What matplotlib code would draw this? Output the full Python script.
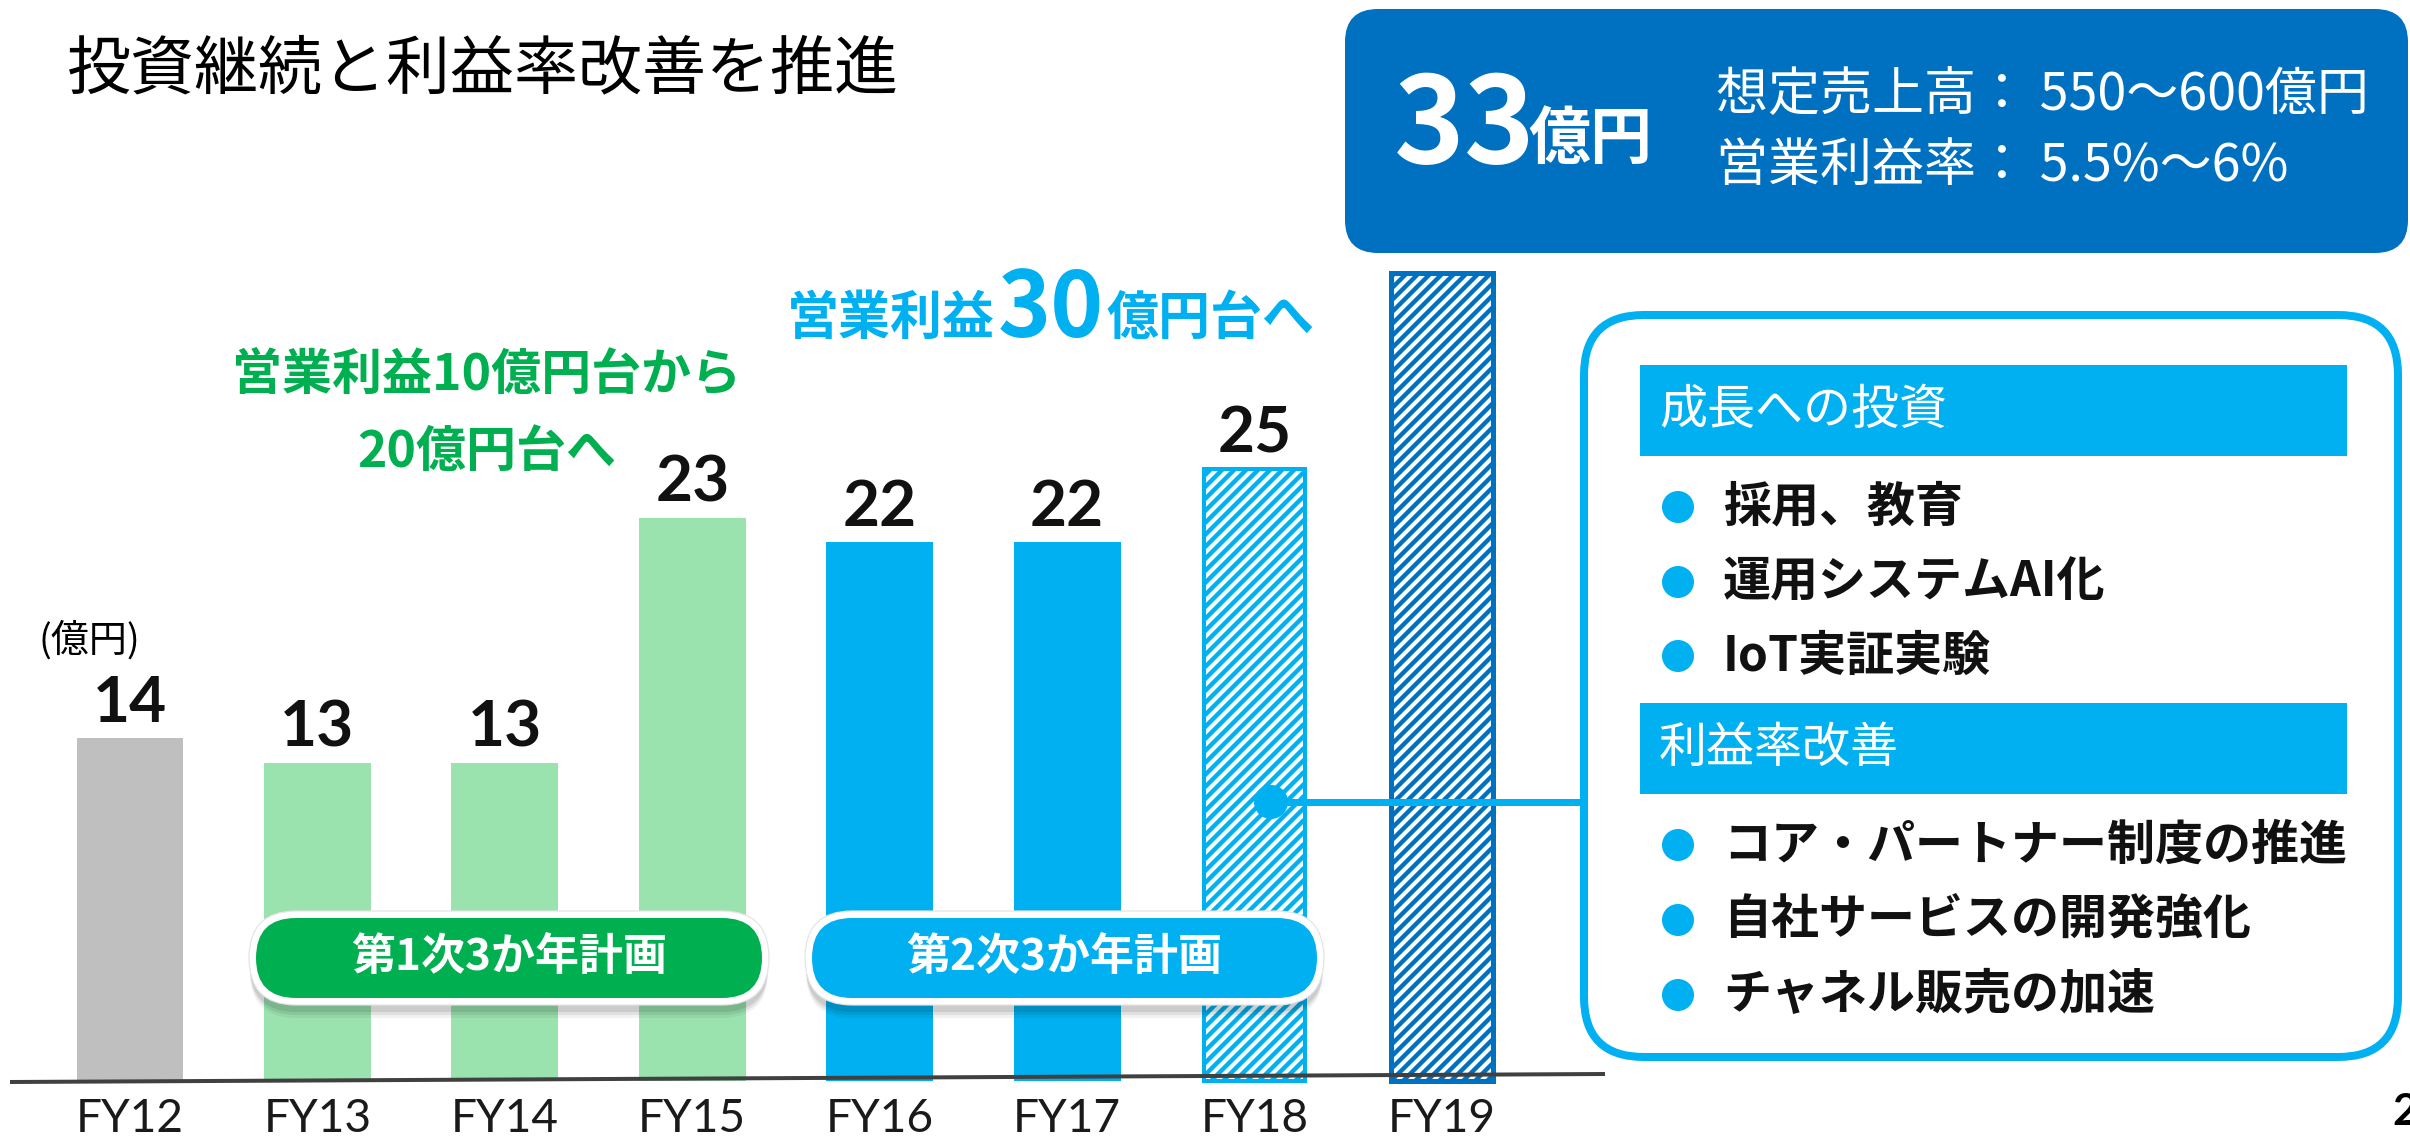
import matplotlib
matplotlib.use('Agg')
import matplotlib.pyplot as plt
from matplotlib.patches import FancyBboxPatch, Circle

plt.rcParams['font.family'] = ['Noto Sans CJK JP', 'DejaVu Sans']
plt.rcParams['hatch.linewidth'] = 2.2

# ---------------- data ----------------
categories = ['FY12', 'FY13', 'FY14', 'FY15', 'FY16', 'FY17', 'FY18', 'FY19']
values = [14, 13, 13, 23, 22, 22, 25, 33]
value_labels = ['14', '13', '13', '23', '22', '22', '25', '']
bar_colors = ['#BFBFBF', '#9AE3AE', '#9AE3AE', '#9AE3AE',
              '#00B0F0', '#00B0F0', '#00B0F0', '#0070C0']
hatched = [False, False, False, False, False, False, True, True]

title = '投資継続と利益率改善を推進'
unit_label = '(億円)'
green_note = ['営業利益10億円台から', '20億円台へ']
blue_note = ['営業利益', '30', '億円台へ']
plan_labels = ['第1次3か年計画', '第2次3か年計画']
target_value = '33'
target_unit = '億円'
target_lines = ['想定売上高： 550〜600億円', '営業利益率： 5.5%〜6%']
group_titles = ['成長への投資', '利益率改善']
group_items = [['採用、教育', '運用システムAI化', 'IoT実証実験'],
               ['コア・パートナー制度の推進', '自社サービスの開発強化', 'チャネル販売の加速']]

# ---------------- colours ----------------
CYAN = '#00B0F0'
DARK = '#0070C0'
GREEN = '#00B050'

W, H, DPI = 2410, 1138, 144
fig = plt.figure(figsize=(W / DPI, H / DPI), dpi=DPI)

# ---------------- bar axes ----------------
BASE = 1081          # baseline pixel (from top)
PXU = 24.5           # pixels per unit
X0, STEP = 130, 187.43
ax = fig.add_axes([0, (H - BASE) / H, 1, BASE / H])
ax.set_xlim(-X0 / STEP, (W - X0) / STEP)
ax.set_ylim(0, BASE / PXU)
for s in ax.spines.values():
    s.set_visible(False)
ax.set_yticks([])
ax.set_xticks(range(len(categories)), categories)
ax.tick_params(axis='x', length=0, pad=8.5, labelsize=23, labelcolor='#1a1a1a')
for t in ax.get_xticklabels():
    t.set_family(['Lato', 'DejaVu Sans'])
    t.set_fontweight('normal')
ax.patch.set_alpha(0)

for i, (v, c, hz) in enumerate(zip(values, bar_colors, hatched)):
    if hz:
        ax.bar(i, v, width=0.54, facecolor='white', edgecolor=c, hatch='////',
               linewidth=2.5 if c == DARK else 2.0, clip_on=False, zorder=2)
    else:
        ax.bar(i, v, width=0.57, color=c, linewidth=0, zorder=2)

for i, (v, lab) in enumerate(zip(values, value_labels)):
    if lab:
        ax.annotate(lab, (i, v), xytext=(0, 8), textcoords='offset points',
                    ha='center', va='baseline', fontsize=32, fontweight='bold',
                    family=['Lato', 'DejaVu Sans'], color='#111111')

# ---------------- overlay (pixel coords) ----------------
ov = fig.add_axes([0, 0, 1, 1])
ov.set_xlim(0, W)
ov.set_ylim(H, 0)
ov.axis('off')
ov.set_zorder(3)


def rbox(x0, y0, x1, y1, r, **kw):
    p = FancyBboxPatch((x0, y0), x1 - x0, y1 - y0,
                       boxstyle=f'round,pad=0,rounding_size={r}', **kw)
    ov.add_patch(p)
    return p


# baseline
ov.plot([10, 1605], [1082, 1074], color='#404040', lw=2.0, solid_capstyle='butt', zorder=5)

# title & unit
ov.text(67, 70, title, fontsize=32, va='center', ha='left', color='black')
ov.text(38, 641, unit_label, fontsize=19, va='center', ha='left', color='black')

# green annotation
ov.text(487, 375, green_note[0], fontsize=25, fontweight='bold', color=GREEN,
        ha='center', va='center')
ov.text(487, 452, green_note[1], fontsize=25, fontweight='bold', color=GREEN,
        ha='center', va='center')

# blue annotation
ov.text(995, 318, blue_note[0], fontsize=26, fontweight='bold', color=CYAN,
        ha='right', va='center')
ov.text(998, 310, blue_note[1], fontsize=45, fontweight='bold', color=CYAN,
        ha='left', va='center')
ov.text(1106, 318, blue_note[2], fontsize=26, fontweight='bold', color=CYAN,
        ha='left', va='center')


# plan pills
def pill(x0, x1, y0, y1, color, text):
    h = y1 - y0
    for off, a in [(14, 0.05), (11, 0.07), (8, 0.09)]:
        rbox(x0 - 6, y0 - 6 + off, x1 + 6, y1 + 6 + off, (h + 12) / 2,
             fc='black', ec='none', alpha=a, zorder=6)
    rbox(x0 - 7, y0 - 7, x1 + 7, y1 + 7, (h + 14) / 2, fc='white',
         ec='#E4E4E4', lw=0.6, zorder=7)
    rbox(x0, y0, x1, y1, h / 2, fc=color, ec='none', zorder=8)
    ov.text((x0 + x1) / 2, (y0 + y1) / 2 - 1, text, fontsize=22, fontweight='bold',
            color='white', ha='center', va='center', zorder=9)


pill(256, 762, 918, 998, '#00AF50', plan_labels[0])
pill(812, 1317, 918, 998, CYAN, plan_labels[1])

# target box
rbox(1345, 9, 2408, 253, 33, fc=DARK, ec='none', zorder=4)
ov.text(1394, 163, target_value, fontsize=60, fontweight='bold', color='white',
        ha='left', va='baseline', zorder=5)
ov.text(1528, 158, target_unit, fontsize=31, fontweight='bold', color='white',
        ha='left', va='baseline', zorder=5)
ov.text(1716, 94, target_lines[0], fontsize=26, color='white', ha='left',
        va='center', zorder=5)
ov.text(1716, 166, target_lines[1], fontsize=26, color='white', ha='left',
        va='center', zorder=5)

# connector
ov.plot([1271, 1584], [802, 802], color=CYAN, lw=3.5, zorder=5, solid_capstyle='butt')
ov.add_patch(Circle((1271, 802), 16, color=CYAN, zorder=6))

# info box
rbox(1584, 315, 2398, 1057, 60, fc='white', ec=CYAN, lw=4, zorder=5)
header_y = [(365, 456), (703, 794)]
item_y = [[507, 582, 656], [845, 920, 995]]
for (hy0, hy1), gt, items, iys in zip(header_y, group_titles, group_items, item_y):
    rbox(1640, hy0, 2347, hy1, 0.1, fc=CYAN, ec='none', zorder=6)
    ov.text(1659, (hy0 + hy1) / 2, gt, fontsize=24, color='white', ha='left',
            va='center', zorder=7)
    for it, yy in zip(items, iys):
        ov.add_patch(Circle((1678, yy), 15, color=CYAN, zorder=7))
        ov.text(1723, yy, it, fontsize=24, fontweight='bold', color='#111111',
                ha='left', va='center', zorder=7)

# page number (partially cut at the right edge, as in the original slide)
ov.text(2392, 1112, '2', fontsize=22, fontweight='bold', color='black',
        ha='left', va='center', family=['Lato', 'DejaVu Sans'])

fig.savefig('out.png', dpi=DPI)
